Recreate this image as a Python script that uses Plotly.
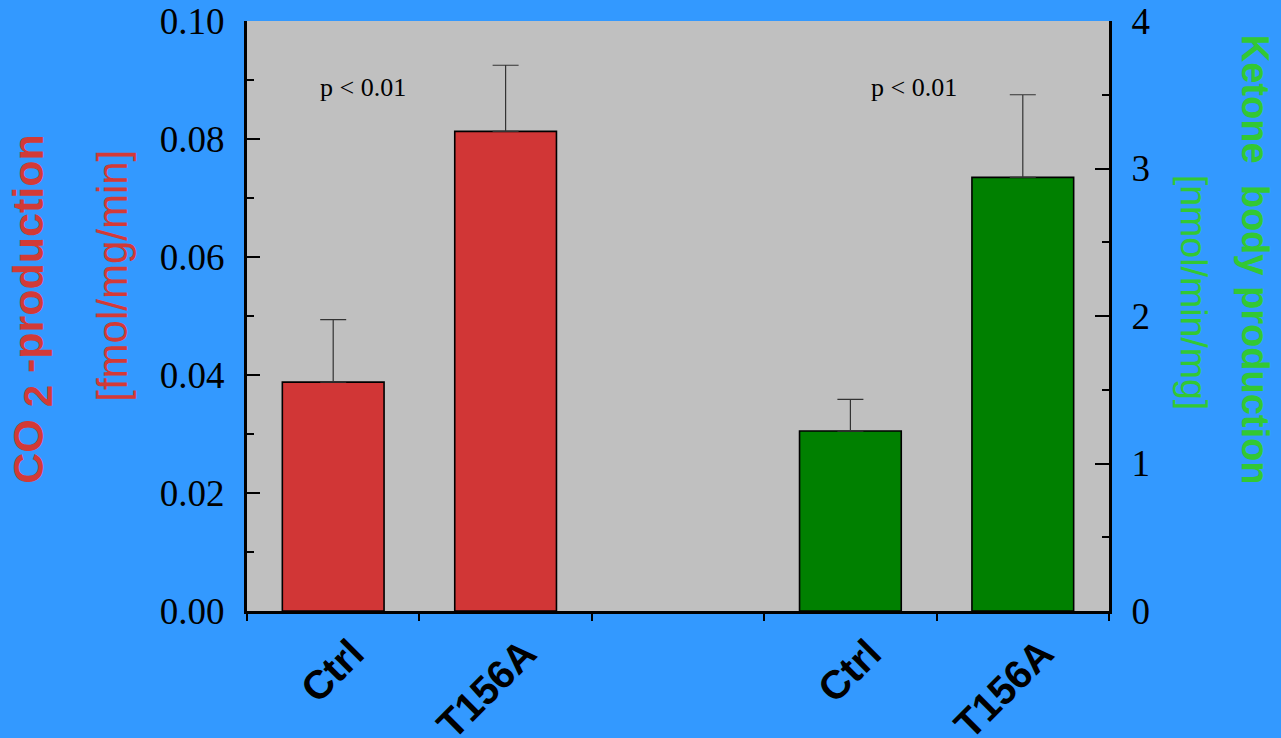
import plotly.graph_objects as go

# ---- data ----
categories = ["Ctrl", "T156A", "", "Ctrl", "T156A"]
co2_values = [0.0388, 0.0813]          # left axis, fmol/mg/min
co2_err = [0.0106, 0.0112]
ketone_values = [1.22, 2.94]           # right axis, nmol/min/mg
ketone_err = [0.215, 0.56]
co2_pos = [0, 1]
ketone_pos = [3, 4]
left_ticks = [0.00, 0.02, 0.04, 0.06, 0.08, 0.10]
right_ticks = [0, 1, 2, 3, 4]
pvalue_text = ["p < 0.01", "p < 0.01"]
pvalue_x = [0.17, 3.37]
pvalue_y = [0.0888, 0.0888]

W, H = 1281, 738
L, R, T, B = 247, 1109, 21, 611.5
PW, PH = R - L, B - T

def px(x):
    return (x - L) / PW

def py(y):
    return (B - y) / PH

RED_BAR = "#d13636"
GREEN_BAR = "#008000"
RED_TXT = "#d23a37"
GREEN_TXT = "#33c833"
BLUE = "#3399ff"
SERIF = "Liberation Serif, Times New Roman, serif"
SANS = "Liberation Sans, Arial, sans-serif"

fig = go.Figure()
fig.add_trace(go.Bar(
    x=co2_pos, y=co2_values, width=0.59, xaxis="x", yaxis="y",
    marker=dict(color=RED_BAR, line=dict(color="black", width=1.6)),
    error_y=dict(type="data", array=co2_err, arrayminus=[0, 0], symmetric=False,
                 color="#333333", thickness=1.2, width=13),
    showlegend=False,
))
fig.add_trace(go.Bar(
    x=ketone_pos, y=ketone_values, width=0.59, xaxis="x", yaxis="y2",
    marker=dict(color=GREEN_BAR, line=dict(color="black", width=1.6)),
    error_y=dict(type="data", array=ketone_err, arrayminus=[0, 0], symmetric=False,
                 color="#333333", thickness=1.2, width=13),
    showlegend=False,
))

xr = [-0.5, len(categories) - 0.5]
boundaries = [i - 0.5 for i in range(len(categories) + 1)]
label_pos = [i for i, c in enumerate(categories) if c]
label_txt = [c for c in categories if c]

fig.update_layout(
    width=W, height=H, autosize=False,
    margin=dict(l=L, r=W - R, t=T, b=H - B, pad=0, autoexpand=False),
    paper_bgcolor=BLUE, plot_bgcolor="#c0c0c0",
    barmode="overlay",
    xaxis=dict(
        range=xr, tickmode="array", tickvals=label_pos, ticktext=label_txt,
        tickangle=-45, tickfont=dict(family=SANS, size=40, color="black", weight="bold"),
        ticks="", showgrid=False, zeroline=False, automargin=False,
        showline=True, linecolor="black", linewidth=3,
        ticklabelstandoff=0, ticklabelshift=19,
        minor=dict(tickmode="array", tickvals=boundaries, ticks="outside",
                   ticklen=7, tickwidth=2, tickcolor="black", showgrid=False),
    ),
    xaxis2=dict(
        range=xr, overlaying="x", side="bottom", anchor="y", automargin=False,
        tickmode="array", tickvals=boundaries[1:-1], ticks="inside",
        ticklen=8, tickwidth=2, tickcolor="black",
        showticklabels=False, showgrid=False, zeroline=False, showline=False,
    ),
    xaxis3=dict(
        range=xr, overlaying="x", side="top", anchor="y", automargin=False,
        tickmode="linear", tick0=-0.5, dtick=0.5, ticks="inside",
        ticklen=4, tickwidth=2, tickcolor="black",
        showticklabels=False, showgrid=False, zeroline=False,
        showline=True, linecolor="black", linewidth=2,
    ),
    yaxis=dict(
        range=[0, 0.1], tickmode="array", tickvals=left_ticks, tickformat=".2f",
        ticks="inside", ticklen=13, tickwidth=2, tickcolor="black",
        tickfont=dict(family=SERIF, size=37, color="black"),
        showgrid=False, zeroline=False, automargin=False,
        showline=True, linecolor="black", linewidth=3,
        ticklabelstandoff=12,
        minor=dict(tickmode="linear", tick0=0.01, dtick=0.02, ticks="inside",
                   ticklen=7, tickwidth=2, tickcolor="black", showgrid=False),
    ),
    yaxis2=dict(
        range=[0, 4], overlaying="y", side="right", anchor="x",
        tickmode="array", tickvals=right_ticks,
        ticks="inside", ticklen=14, tickwidth=2, tickcolor="black",
        tickfont=dict(family=SERIF, size=37, color="black"),
        showgrid=False, zeroline=False, automargin=False,
        showline=True, linecolor="black", linewidth=3,
        ticklabelstandoff=12,
        minor=dict(tickmode="linear", tick0=0.5, dtick=1, ticks="inside",
                   ticklen=7, tickwidth=2, tickcolor="black", showgrid=False),
    ),
)

for t, x, y in zip(pvalue_text, pvalue_x, pvalue_y):
    fig.add_annotation(x=x, y=y, xref="x", yref="y", text=t, showarrow=False,
                       font=dict(family=SERIF, size=26, color="black"))

# axis titles
fig.add_annotation(x=px(32), y=py(310), xref="paper", yref="paper",
                   xanchor="center", yanchor="middle",
                   text='CO <sub><span style="font-size:40px">2</span></sub> -production',
                   textangle=-90, showarrow=False,
                   font=dict(family=SANS, size=43, color=RED_TXT, weight="bold"))
fig.add_annotation(x=px(113), y=py(276), xref="paper", yref="paper",
                   xanchor="center", yanchor="middle",
                   text="[fmol/mg/min]", textangle=-90, showarrow=False,
                   font=dict(family=SANS, size=42, color=RED_TXT))
fig.add_annotation(x=px(1255), y=py(260), xref="paper", yref="paper",
                   xanchor="center", yanchor="middle",
                   text="Ketone  body production", textangle=90, showarrow=False,
                   font=dict(family=SANS, size=38, color=GREEN_TXT, weight="bold"))
fig.add_annotation(x=px(1194), y=py(292), xref="paper", yref="paper",
                   xanchor="center", yanchor="middle",
                   text="[nmol/min/mg]", textangle=90, showarrow=False,
                   font=dict(family=SANS, size=37.5, color=GREEN_TXT))

fig.write_html(
    "out.html",
    config={"displayModeBar": False},
    post_script="document.documentElement.style.margin='0';"
                "document.body.style.margin='0';"
                "document.body.style.overflow='hidden';",
)
